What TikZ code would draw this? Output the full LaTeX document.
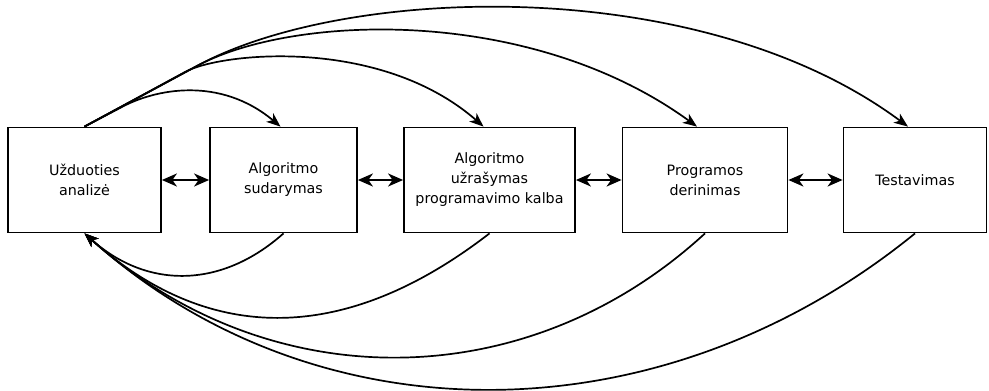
\documentclass[tikz,border=0pt]{standalone}
\usepackage{fontspec}
\setmainfont{DejaVu Sans}
\usetikzlibrary{arrows.meta}
\begin{document}
\begin{tikzpicture}[x=1pt,y=-1pt,
  stage/.style={draw, line width=1.8pt, minimum height=105pt, align=center,
    inner sep=0pt, font=\fontsize{14.3}{20}\selectfont},
  flow/.style={line width=1.7pt, line join=round,
    -{Stealth[length=14pt,width=11pt,inset=4pt]}},
  swap/.style={line width=2pt,
    {Stealth[length=15pt,width=13pt,inset=4.5pt]}-{Stealth[length=15pt,width=13pt,inset=4.5pt]}}
]
\useasboundingbox (0,0) rectangle (989,391);

% the five stages
\node[stage, minimum width=153pt] (a) at (84.5,180) {Užduoties\\analizė};
\node[stage, minimum width=147pt] (b) at (283.5,180) {Algoritmo\\sudarymas};
\node[stage, minimum width=171pt] (c) at (489.5,180) {Algoritmo\\užrašymas\\programavimo kalba};
\node[stage, minimum width=165pt] (d) at (705,180) {Programos\\derinimas};
\node[stage, minimum width=143pt] (e) at (915,180) {Testavimas};

% links between neighbouring stages
\draw[swap] (a.east) -- (b.west);
\draw[swap] (b.east) -- (c.west);
\draw[swap] (c.east) -- (d.west);
\draw[swap] (d.east) -- (e.west);

% forward arcs from the analysis stage: a common straight start, then each bends away
\draw[flow] (a.north) -- (120,108) .. controls (155,88.6) and (220,76) .. ([xshift=-3pt]b.north);
\draw[flow] (a.north) -- (185,72) .. controls (220,52.6) and (380,36) .. ([xshift=-6pt]c.north);
\draw[flow] (a.north) -- (195,67) .. controls (291,14) and (530,5) .. ([xshift=-8pt]d.north);
\draw[flow] (a.north) -- (195,67) .. controls (343,-15) and (700,-28) .. ([xshift=-7pt]e.north);

% return arcs back to the analysis stage
\draw[flow] (b.south) .. controls (221,289) and (147,289) .. (a.south);
\draw[flow] (c.south) .. controls (345,345) and (209,345) .. (a.south);
\draw[flow] (d.south) .. controls (526,398) and (268,398) .. (a.south);
\draw[flow] (e.south) .. controls (660,441) and (316,441) .. (a.south);
\end{tikzpicture}
\end{document}
